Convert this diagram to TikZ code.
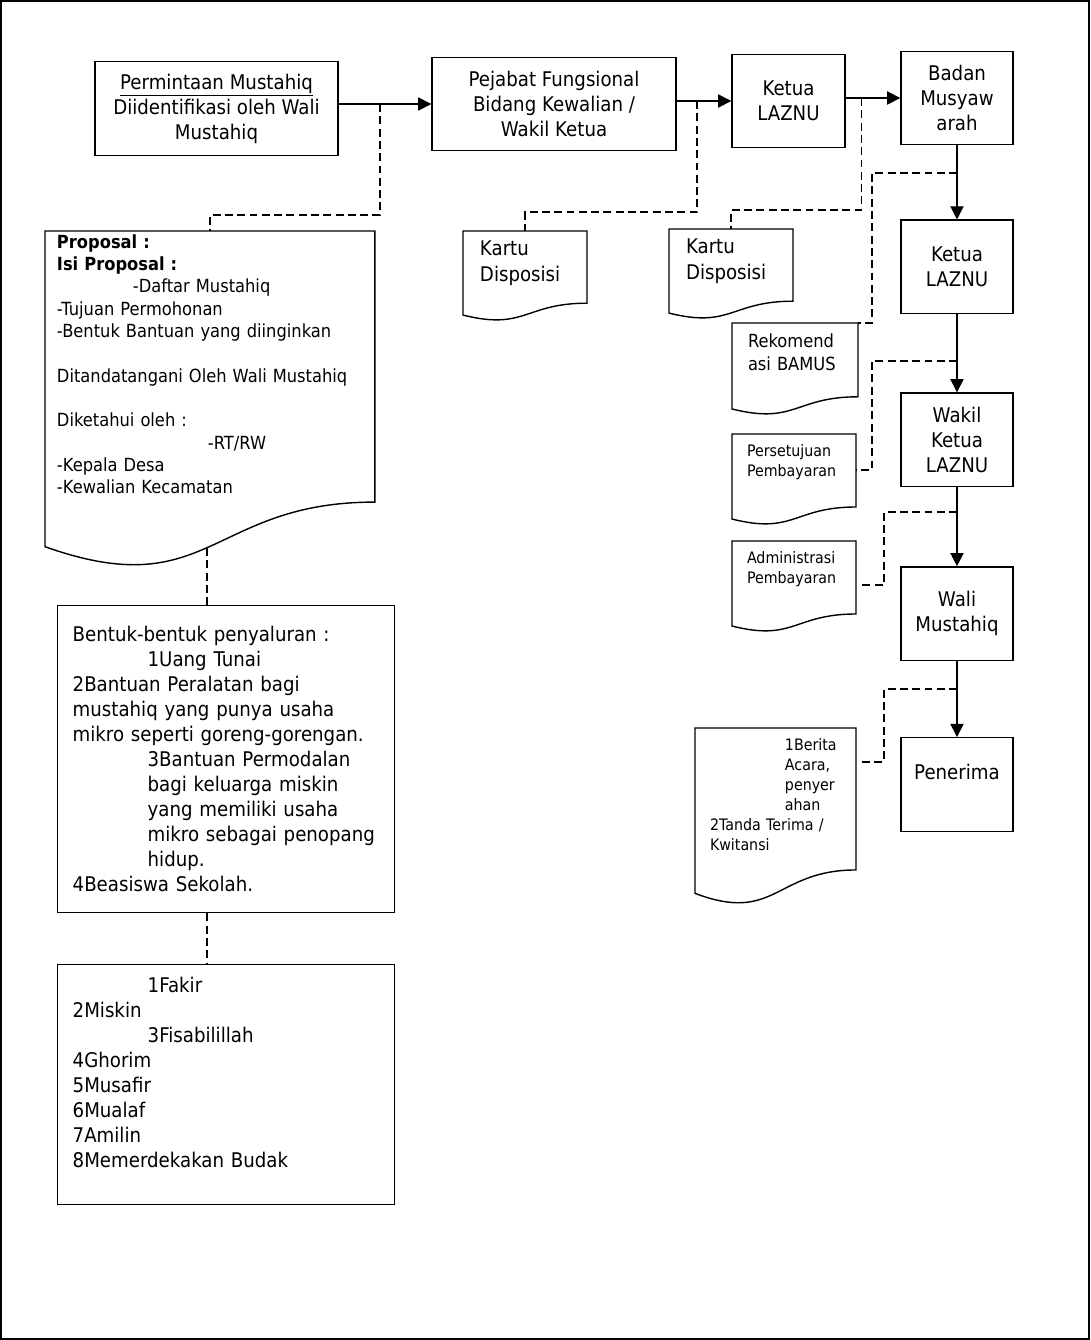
\documentclass[tikz,border=0pt]{standalone}
\usepackage{fontspec}
\setmainfont{DejaVu Sans}[FakeStretch=0.9]
\usetikzlibrary{arrows.meta,calc,positioning}

\newcommand\docwave[2]{%
  \draw[line width=0.8pt] (#1.north west) -- (#1.north east)
    -- ($(#1.north east)+(0,{0.802*#2})$)
    .. controls ($(#1.north)+(0,{0.802*#2})$) and ($(#1.north)+(0,{1.1075*#2})$)
    .. ($(#1.north west)+(0,{0.934*#2})$) -- cycle;}

\begin{document}
\begin{tikzpicture}[x=0.02cm,y=-0.02cm,node distance=1.5cm,
  box/.style={draw,line width=0.8pt,align=center,minimum width=#1,minimum height=1.87cm,inner sep=1pt,font=\fontsize{11.5}{14.2}\selectfont},
  doc/.style={anchor=north west,align=left,outer sep=0pt,inner ysep=6pt,text width=#1},
  listbox/.style={draw,line width=0.8pt,anchor=north west,align=left,text width=6.14cm,inner xsep=0.3cm,font=\fontsize{11.5}{14.2}\selectfont},
  arr/.style={line width=0.8pt,-{Triangle[length=7.5pt,width=7.5pt]}},
  dline/.style={line width=0.9pt,dash pattern=on 4.5pt off 2.5pt}]
  \useasboundingbox (0,0) rectangle (1090,1340);
  \draw[line width=1.2pt] (1,1) rectangle (1089,1339);

  \node[box=4.86cm] (perm) at (216.5,108.5) {\underline{Permintaan Mustahiq}\\Diidentifikasi oleh Wali\\Mustahiq};
  \node[box=4.88cm] (pejabat) at (554,104) {Pejabat Fungsional\\Bidang Kewalian /\\Wakil Ketua};
  \node[box=2.26cm] (ketua) at (788.5,101) {Ketua\\LAZNU};
  \node[box=2.24cm] (bamus) at (957,98) {Badan\\Musyaw\\arah};
  \node[box=2.24cm,below=1.48cm of bamus] (ketua2) {Ketua\\LAZNU};
  \node[box=2.24cm,below=1.56cm of ketua2] (wakil) {Wakil\\Ketua\\LAZNU};
  \node[box=2.24cm,below=1.58cm of wakil] (wali) {Wali\\Mustahiq};
  \node[box=2.24cm,below=1.52cm of wali] (penerima) {Penerima\\\mbox{}};

  \node[doc=6.12cm,inner xsep=0.24cm,inner ysep=2pt,font=\fontsize{10.3}{12.7}\selectfont] (prop) at (45,231)
    {\textbf{Proposal :}\\
     \textbf{Isi Proposal :}\\
     \hspace*{1.52cm}-Daftar Mustahiq\\
     -Tujuan Permohonan\\
     -Bentuk Bantuan yang diinginkan\\[12.7pt]
     Ditandatangani Oleh Wali Mustahiq\\[12.7pt]
     Diketahui oleh :\\
     \hspace*{3.02cm}-RT/RW\\
     -Kepala Desa\\
     -Kewalian Kecamatan};
  \docwave{prop}{338}
  \node[doc=1.8cm,inner xsep=0.34cm,inner ysep=5.5pt,font=\fontsize{11.5}{15}\selectfont] (kartu1) at (463,231) {Kartu\\Disposisi};
  \docwave{kartu1}{90}
  \node[doc=1.8cm,inner xsep=0.34cm,inner ysep=5.5pt,font=\fontsize{11.5}{15}\selectfont] (kartu2) at (669,229) {Kartu\\Disposisi};
  \docwave{kartu2}{90}
  \node[doc=1.88cm,inner xsep=0.32cm,font=\fontsize{10.3}{13}\selectfont] (rekom) at (732,323) {Rekomend\\asi BAMUS};
  \docwave{rekom}{92}
  \node[doc=1.88cm,inner xsep=0.3cm,font=\fontsize{9}{11.4}\selectfont] (setuju) at (732,434) {Persetujuan\\Pembayaran};
  \docwave{setuju}{91}
  \node[doc=1.88cm,inner xsep=0.3cm,font=\fontsize{9}{11.4}\selectfont] (admin) at (732,541) {Administrasi\\Pembayaran};
  \docwave{admin}{91}
  \node[doc=2.62cm,inner xsep=0.3cm,font=\fontsize{9}{11.4}\selectfont] (berita) at (695,728)
    {\hspace*{1.5cm}1Berita\\
     \hspace*{1.5cm}Acara,\\
     \hspace*{1.5cm}penyer\\
     \hspace*{1.5cm}ahan\\
     2Tanda Terima /\\
     Kwitansi};
  \docwave{berita}{177}

  \node[listbox,minimum height=6.14cm] (bentuk) at (57,605)
    {Bentuk-bentuk penyaluran :\\
     \hspace*{1.5cm}1Uang Tunai\\
     2Bantuan Peralatan bagi\\
     mustahiq yang punya usaha\\
     mikro seperti goreng-gorengan.\\
     \hspace*{1.5cm}3Bantuan Permodalan\\
     \hspace*{1.5cm}bagi keluarga miskin\\
     \hspace*{1.5cm}yang memiliki usaha\\
     \hspace*{1.5cm}mikro sebagai penopang\\
     \hspace*{1.5cm}hidup.\\
     4Beasiswa Sekolah.};
  \node[listbox,minimum height=4.8cm] (asnaf) at (57,964)
    {\hspace*{1.5cm}1Fakir\\
     2Miskin\\
     \hspace*{1.5cm}3Fisabilillah\\
     4Ghorim\\
     5Musafir\\
     6Mualaf\\
     7Amilin\\
     8Memerdekakan Budak\\
     \mbox{}};

  \draw[arr] (perm.east |- pejabat.west) -- coordinate[pos=0.447] (j1) (pejabat.west);
  \draw[arr] (pejabat.east |- ketua.west) -- coordinate[pos=0.375] (j2) (ketua.west);
  \draw[arr] (ketua.east |- bamus.west) -- coordinate[pos=0.286] (j3) (bamus.west);
  \draw[arr] (bamus) -- coordinate[pos=0.373] (j4) (ketua2);
  \draw[arr] (ketua2) -- coordinate[pos=0.6] (j5) (wakil);
  \draw[arr] (wakil) -- coordinate[pos=0.3125] (j6) (wali);
  \draw[arr] (wali) -- coordinate[pos=0.368] (j7) (penerima);

  \draw[dline] (j1) |- ($(prop.north)+(0,-16)$) -- (prop.north);
  \draw[dline] (j2) |- ($(kartu1.north)+(0,-19)$) -- (kartu1.north);
  \draw[dline] (j3) |- ($(kartu2.north)+(0,-19)$) -- (kartu2.north);
  \draw[dline] (j4) -| ($(rekom.north east)+(14,0)$) -- (rekom.north east);
  \draw[dline] (j5) -| ($(setuju.north east)+(16,36)$) -- ($(setuju.north east)+(0,36)$);
  \draw[dline] (j6) -| ($(admin.north east)+(28,44)$) -- ($(admin.north east)+(4,44)$);
  \draw[dline] (j7) -| ($(berita.north east)+(28,34)$) -- ($(berita.north east)+(4,34)$);
  \coordinate (pb) at ($(prop.north)+(-3,317)$);
  \draw[dline] (pb) -- (pb |- bentuk.north);
  \draw[dline] (pb |- bentuk.south) -- (pb |- asnaf.north);
\end{tikzpicture}
\end{document}
